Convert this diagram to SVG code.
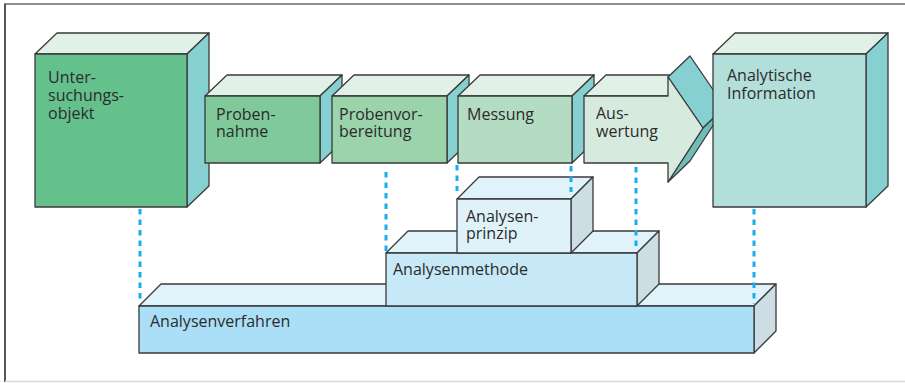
<svg xmlns="http://www.w3.org/2000/svg" width="905" height="383" viewBox="0 0 905 383">
<style>
.f{stroke:#3a3a3a;stroke-width:1.3;stroke-linejoin:round}
.top{fill:#e1f1e7}
.side{fill:#86d0d1}
.btop{fill:#e0f2fa}
.bside{fill:#ccdde4}
text{font-family:"Open Sans","Liberation Sans",sans-serif;font-size:16px;fill:#2b2b2b}
.dot{stroke:#18aeee;stroke-width:3;stroke-dasharray:5.5 5;fill:none}
</style>
<rect x="0" y="0" width="905" height="383" fill="#ffffff"/>
<g id="frame">
<line x1="5" y1="4" x2="905" y2="4" stroke="#6a6a6a" stroke-width="1.5"/>
<line x1="5" y1="3.5" x2="5" y2="382" stroke="#555" stroke-width="2"/>
<line x1="5" y1="381.5" x2="905" y2="381.5" stroke="#d8d8d8" stroke-width="1.5"/>
</g>
<g id="analysenverfahren">
<polygon class="f btop" points="139,306 161,284 776,284 754,306"/>
<polygon class="f bside" points="754,306 776,284 776,331 754,353"/>
<rect class="f" x="139" y="306" width="615" height="47" fill="#abdff8"/>
<text x="150" y="327">Analysenverfahren</text>
</g>
<g id="analysenmethode">
<polygon class="f btop" points="386,253 408,231 659,231 637,253"/>
<polygon class="f bside" points="637,253 659,231 659,284 637,306"/>
<rect class="f" x="386" y="253" width="251" height="53" fill="#c6e8f7"/>
<text x="393" y="275">Analysenmethode</text>
</g>
<g id="analysenprinzip">
<polygon class="f btop" points="457,199 479,177 593,177 571,199"/>
<polygon class="f bside" points="571,199 593,177 593,231 571,253"/>
<rect class="f" x="457" y="199" width="114" height="54" fill="#dff2fa"/>
<text x="466" y="222">Analysen-</text>
<text x="466" y="239">prinzip</text>
</g>
<g id="untersuchungsobjekt">
<polygon class="f top" points="35,54 57,33 209,33 187,54"/>
<polygon class="f side" points="187,54 209,33 209,186 187,207"/>
<rect class="f" x="35" y="54" width="152" height="153" fill="#64c18b"/>
<text x="48" y="83">Unter-</text>
<text x="48" y="101">suchungs-</text>
<text x="48" y="119">objekt</text>
</g>
<g id="probennahme">
<polygon class="f top" points="205,96 227,75 342,75 320,96"/>
<polygon class="f side" points="320,96 342,75 342,142 320,163"/>
<rect class="f" x="205" y="96" width="115" height="67" fill="#7fc99a"/>
<text x="216" y="120">Proben-</text>
<text x="216" y="137">nahme</text>
</g>
<g id="probenvorbereitung">
<polygon class="f top" points="332,96 354,75 469,75 447,96"/>
<polygon class="f side" points="447,96 469,75 469,142 447,163"/>
<rect class="f" x="332" y="96" width="115" height="67" fill="#9bd3ab"/>
<text x="339" y="120">Probenvor-</text>
<text x="339" y="137">bereitung</text>
</g>
<g id="messung">
<polygon class="f top" points="458,96 480,75 594,75 572,96"/>
<polygon class="f side" points="572,96 594,75 594,142 572,163"/>
<rect class="f" x="458" y="96" width="114" height="67" fill="#b3dcc2"/>
<text x="467" y="120">Messung</text>
</g>
<g id="auswertung">
<polygon class="f top" points="584,96 606,75 690,75 668,96"/>
<polygon class="f side" points="668,77 690,56 725,107 703,128"/>
<polygon class="f" points="703,128 725,107 690,161 668,182" fill="#6fbdb6"/>
<polygon class="f" points="584,96 668,96 668,77 703,128 668,182 668,163 584,163" fill="#d6ebdd"/>
<text x="596" y="119">Aus-</text>
<text x="596" y="137">wertung</text>
</g>
<g id="analytische-information">
<polygon class="f top" points="713,54 735,33 888,33 866,54"/>
<polygon class="f side" points="866,54 888,33 888,186 866,207"/>
<rect class="f" x="713" y="54" width="153" height="153" fill="#b2dfda"/>
<text x="727" y="81">Analytische</text>
<text x="727" y="99">Information</text>
</g>
<g id="connectors">
<line class="dot" x1="140" y1="209" x2="140" y2="301"/>
<line class="dot" x1="386" y1="172" x2="386" y2="251"/>
<line class="dot" x1="457" y1="165" x2="457" y2="191"/>
<line class="dot" x1="571" y1="166" x2="571" y2="192"/>
<line class="dot" x1="636" y1="167" x2="636" y2="247"/>
<line class="dot" x1="754" y1="209" x2="754" y2="304"/>
</g>
</svg>
